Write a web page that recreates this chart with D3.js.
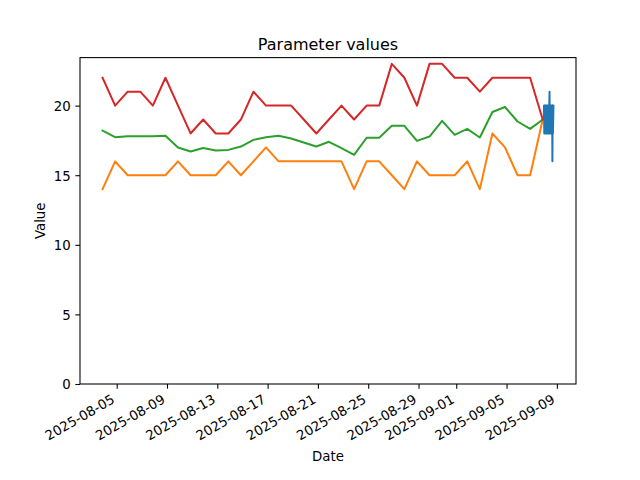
<!DOCTYPE html>
<html>
<head>
<meta charset="utf-8">
<script src="https://cdn.jsdelivr.net/npm/d3@7"></script>
<style>
  html, body { margin: 0; padding: 0; background: #fff; }
  svg { display: block; }
  text { font-family: "DejaVu Sans", sans-serif; fill: #000; }
</style>
</head>
<body>
<svg id="chart" width="640" height="480"></svg>
<script>
// ---- data ----
const dates = [
  "2025-08-03T21:00","2025-08-04T21:00","2025-08-05T21:00","2025-08-06T21:00","2025-08-07T21:00",
  "2025-08-08T21:00","2025-08-09T21:00","2025-08-10T21:00","2025-08-11T21:00","2025-08-12T21:00",
  "2025-08-13T21:00","2025-08-14T21:00","2025-08-15T21:00","2025-08-16T21:00","2025-08-17T21:00",
  "2025-08-18T21:00","2025-08-19T21:00","2025-08-20T21:00","2025-08-21T21:00","2025-08-22T21:00",
  "2025-08-23T21:00","2025-08-24T21:00","2025-08-25T21:00","2025-08-26T21:00","2025-08-27T21:00",
  "2025-08-28T21:00","2025-08-29T21:00","2025-08-30T21:00","2025-08-31T21:00","2025-09-01T21:00",
  "2025-09-02T21:00","2025-09-03T21:00","2025-09-04T21:00","2025-09-05T21:00","2025-09-06T21:00",
  "2025-09-07T21:00"
];
const minValues = [14,16,15,15,15,15,16,15,15,15,16,15,16,17,16,16,16,16,16,16,14,16,16,15,14,16,15,15,15,16,14,18,17,15,15,19];
const meanValues = [18.2,17.73,17.8,17.8,17.8,17.83,16.99,16.7,16.96,16.77,16.82,17.06,17.54,17.73,17.83,17.64,17.35,17.06,17.4,16.94,16.46,17.69,17.69,18.55,18.55,17.47,17.78,18.91,17.9,18.33,17.71,19.54,19.9,18.86,18.33,19.0];
const maxValues = [22,20,21,21,20,22,20,18,19,18,18,19,21,20,20,20,19,18,19,20,19,20,20,23,22,20,23,23,22,22,21,22,22,22,22,19];

const rawTimes = [
  "2025-09-07T23:00","2025-09-07T23:30","2025-09-08T00:00","2025-09-08T00:30","2025-09-08T01:00",
  "2025-09-08T01:30","2025-09-08T02:00","2025-09-08T02:30","2025-09-08T03:00","2025-09-08T03:30",
  "2025-09-08T04:00","2025-09-08T04:30","2025-09-08T05:00","2025-09-08T05:30","2025-09-08T06:00",
  "2025-09-08T06:30","2025-09-08T07:00","2025-09-08T07:30","2025-09-08T08:00","2025-09-08T08:30",
  "2025-09-08T09:00","2025-09-08T09:30","2025-09-08T10:00","2025-09-08T10:30","2025-09-08T11:00",
  "2025-09-08T11:30","2025-09-08T12:00","2025-09-08T12:30","2025-09-08T13:00","2025-09-08T13:30",
  "2025-09-08T14:00","2025-09-08T14:30","2025-09-08T15:00","2025-09-08T15:30","2025-09-08T16:00",
  "2025-09-08T16:30","2025-09-08T17:00","2025-09-08T17:30"
];
const rawValues = [19,20,18,20,18,19,20,18,20,19,18,20,18,20,19,18,20,18,20,19,18,20,21,18,20,19,18,20,18,20,19,18,20,16,20,18,19,20];

const xTickLabels = ["2025-08-05","2025-08-09","2025-08-13","2025-08-17","2025-08-21","2025-08-25","2025-08-29","2025-09-01","2025-09-05","2025-09-09"];
const yTickValues = [0,5,10,15,20];

const titleText = "Parameter values";
const xLabelText = "Date";
const yLabelText = "Value";

// ---- layout ----
const W = 640, H = 480;
const mLeft = 80, mRight = 576, mTop = 57.6, mBottom = 384;
const fs = 13.333;
const tickLen = 4.667, tickPad = 4.667;

const parseT = d3.utcParse("%Y-%m-%dT%H:%M");
const parseD = d3.utcParse("%Y-%m-%d");

const daily = dates.map(parseT);
const raw = rawTimes.map(parseT);

// x domain with 5% margins (matplotlib style)
const allT = daily.concat(raw).map(d => +d);
const tMin = d3.min(allT), tMax = d3.max(allT);
const tPad = (tMax - tMin) * 0.05;
const x = d3.scaleUtc().domain([new Date(tMin - tPad), new Date(tMax + tPad)]).range([mLeft, mRight]);

const allV = minValues.concat(meanValues, maxValues, rawValues);
const vMin = d3.min(allV), vMax = d3.max(allV);
const y = d3.scaleLinear().domain([0, vMax + (vMax - vMin) * 0.05]).range([mBottom, mTop]);

const svg = d3.select("#chart");
svg.append("rect").attr("width", W).attr("height", H).attr("fill", "#fff");

const clipId = "plotclip";
svg.append("defs").append("clipPath").attr("id", clipId)
  .append("rect").attr("x", mLeft).attr("y", mTop).attr("width", mRight - mLeft).attr("height", mBottom - mTop);

const plot = svg.append("g").attr("clip-path", `url(#${clipId})`);

const line = d3.line().x(d => x(d[0])).y(d => y(d[1]));

const series = [
  { t: raw, v: rawValues, color: "#1f77b4" },
  { t: daily, v: minValues, color: "#ff7f0e" },
  { t: daily, v: meanValues, color: "#2ca02c" },
  { t: daily, v: maxValues, color: "#d62728" }
];
series.forEach(s => {
  plot.append("path")
    .datum(s.t.map((t, i) => [t, s.v[i]]))
    .attr("fill", "none")
    .attr("stroke", s.color)
    .attr("stroke-width", 2)
    .attr("stroke-linejoin", "round")
    .attr("stroke-linecap", "square")
    .attr("d", line);
});

// ---- axes ----
const xAxis = d3.axisBottom(x)
  .tickValues(xTickLabels.map(parseD))
  .tickFormat(d3.utcFormat("%Y-%m-%d"))
  .tickSize(tickLen)
  .tickPadding(tickPad);

const gx = svg.append("g").attr("transform", `translate(0,${mBottom})`).call(xAxis);
gx.select(".domain").remove();
gx.selectAll(".tick line").attr("stroke", "#000").attr("stroke-width", 1.07);
const ax = -1.5, ay = tickLen + tickPad + 0.866 * 0.76 * fs;
gx.selectAll(".tick text")
  .attr("font-family", "DejaVu Sans")
  .attr("font-size", fs)
  .attr("fill", "#000")
  .attr("text-anchor", "end")
  .attr("x", ax)
  .attr("y", ay)
  .attr("dy", null)
  .attr("transform", `rotate(-30,${ax},${ay})`);

const yAxis = d3.axisLeft(y)
  .tickValues(yTickValues)
  .tickFormat(d3.format("d"))
  .tickSize(tickLen)
  .tickPadding(tickPad);
const gy = svg.append("g").attr("transform", `translate(${mLeft},0)`).call(yAxis);
gy.select(".domain").remove();
gy.selectAll(".tick line").attr("stroke", "#000").attr("stroke-width", 1.07);
gy.selectAll(".tick text")
  .attr("font-family", "DejaVu Sans")
  .attr("font-size", fs)
  .attr("fill", "#000")
  .attr("dy", "0.36em");

// frame
svg.append("rect")
  .attr("x", mLeft).attr("y", mTop)
  .attr("width", mRight - mLeft).attr("height", mBottom - mTop)
  .attr("fill", "none").attr("stroke", "#000").attr("stroke-width", 1.07);

// labels
svg.append("text")
  .attr("x", (mLeft + mRight) / 2).attr("y", 49.6)
  .attr("text-anchor", "middle")
  .attr("font-size", 16)
  .text(titleText);

svg.append("text")
  .attr("x", (mLeft + mRight) / 2).attr("y", 461)
  .attr("text-anchor", "middle")
  .attr("font-size", fs)
  .text(xLabelText);

svg.append("text")
  .attr("transform", `translate(45,${(mTop + mBottom) / 2}) rotate(-90)`)
  .attr("text-anchor", "middle")
  .attr("font-size", fs)
  .text(yLabelText);
</script>
</body>
</html>
